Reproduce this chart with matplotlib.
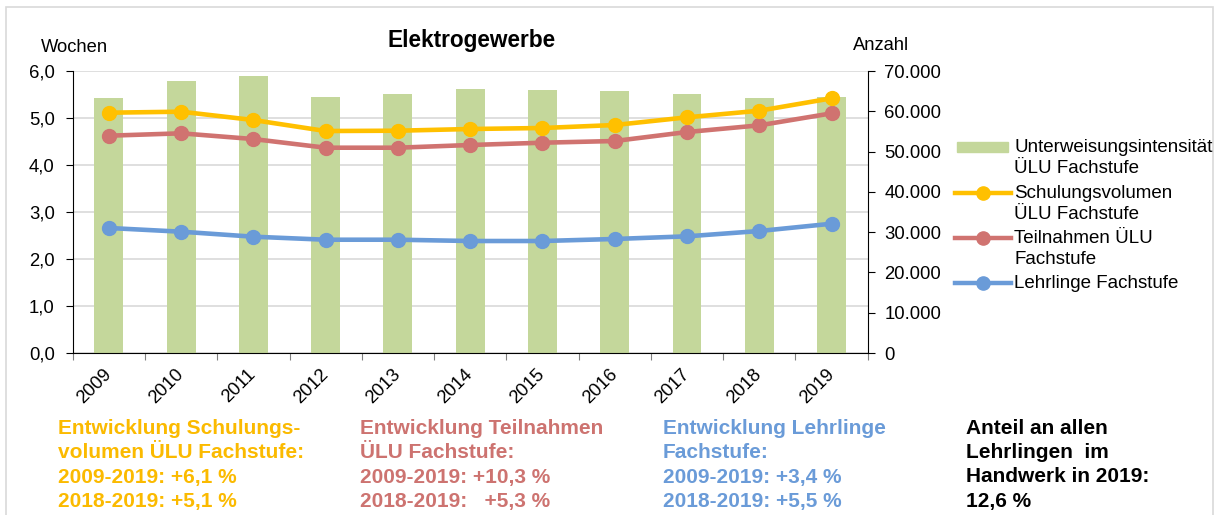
import numpy as np
import matplotlib
matplotlib.use('Agg')
import matplotlib.pyplot as plt
from matplotlib.lines import Line2D
from matplotlib.patches import Rectangle
from matplotlib.ticker import FuncFormatter, MultipleLocator

# ---- data ----
years = ['2009', '2010', '2011', '2012', '2013', '2014', '2015', '2016', '2017', '2018', '2019']
intensitaet = [5.42, 5.79, 5.89, 5.45, 5.51, 5.62, 5.60, 5.57, 5.51, 5.42, 5.44]
schulungsvolumen = [59650, 59900, 57830, 55100, 55180, 55600, 55850, 56590, 58500, 60140, 63220]
teilnahmen = [53940, 54530, 53110, 50960, 50960, 51630, 52200, 52620, 54850, 56510, 59490]
lehrlinge = [31030, 30110, 28870, 28120, 28120, 27800, 27800, 28300, 28960, 30280, 32090]

series_labels = ['Unterweisungsintensität\nÜLU Fachstufe',
                 'Schulungsvolumen\nÜLU Fachstufe',
                 'Teilnahmen ÜLU\nFachstufe',
                 'Lehrlinge Fachstufe']

title = 'Elektrogewerbe'
left_label = 'Wochen'
right_label = 'Anzahl'

notes = [
    (['Entwicklung Schulungs-', 'volumen ÜLU Fachstufe:', '2009-2019: +6,1 %', '2018-2019: +5,1 %'], '#FBBA00'),
    (['Entwicklung Teilnahmen', 'ÜLU Fachstufe:', '2009-2019: +10,3 %', '2018-2019:   +5,3 %'], '#CD7370'),
    (['Entwicklung Lehrlinge', 'Fachstufe:', '2009-2019: +3,4 %', '2018-2019: +5,5 %'], '#6A9BD8'),
    (['Anteil an allen', 'Lehrlingen  im', 'Handwerk in 2019:', '12,6 %'], '#000000'),
]

C_BAR = '#C4D79B'
C_Y = '#FFC000'
C_R = '#D07370'
C_B = '#6A9BD8'

plt.rcParams['font.family'] = ['Liberation Sans', 'DejaVu Sans']

W, H = 1217, 515
fig = plt.figure(figsize=(W / 100, H / 100), dpi=100)

FS_TICK = 13.3


def fx(px):
    return px / W


def fy(py):
    return 1 - py / H


# border
fig.patches.append(Rectangle((fx(6), -0.1), fx(1213) - fx(6), fy(7) + 0.1, fill=False,
                             edgecolor='#D9D9D9', lw=1.2, transform=fig.transFigure))

ax = fig.add_axes([fx(72.7), fy(353), fx(867.7) - fx(72.7), fy(71) - fy(353)])
x = np.arange(len(years))
ax.bar(x, intensitaet, width=0.4, color=C_BAR, zorder=2)
ax.set_xlim(-0.5, len(years) - 0.5)
ax.set_ylim(0, 6)
ax.yaxis.set_major_locator(MultipleLocator(1))
ax.yaxis.set_major_formatter(FuncFormatter(lambda v, p: f'{v:.1f}'.replace('.', ',')))
ax.grid(axis='y', color='#D9D9D9', lw=1.2)
ax.set_axisbelow(True)
ax.set_xticks(np.arange(-0.5, len(years), 1))
ax.set_xticklabels([])
ax.set_xticks(x, years, minor=True)
ax.tick_params(axis='x', which='major', direction='out', length=5, color='#808080')
ax.tick_params(axis='x', which='minor', length=0, pad=13.5, labelsize=FS_TICK)
for t in ax.get_xticklabels(minor=True):
    t.set_rotation(45)
    t.set_ha('right')
    t.set_va('center')
    t.set_rotation_mode('anchor')
ax.tick_params(axis='y', direction='out', length=5, labelsize=FS_TICK, pad=8)
for s in ['top', 'right']:
    ax.spines[s].set_visible(False)
ax.spines['left'].set_color('black')
ax.spines['bottom'].set_color('black')

ax2 = ax.twinx()
ax2.set_ylim(0, 70000)
ax2.yaxis.set_major_locator(MultipleLocator(10000))
ax2.yaxis.set_major_formatter(FuncFormatter(lambda v, p: f'{int(v):,}'.replace(',', '.')))
ax2.tick_params(axis='y', direction='out', length=5, labelsize=FS_TICK, pad=7)
for s in ['top', 'left', 'bottom']:
    ax2.spines[s].set_visible(False)

kw = dict(lw=3.3, marker='o', ms=10, solid_capstyle='round')
ax2.plot(x, lehrlinge, color=C_B, **kw)
ax2.plot(x, teilnahmen, color=C_R, **kw)
ax2.plot(x, schulungsvolumen, color=C_Y, **kw)

# titles
fig.text(fx(472), fy(41), title, ha='center', va='center', fontsize=16.3, weight='bold')
fig.text(fx(74.5), fy(47), left_label, ha='center', va='center', fontsize=13.2)
fig.text(fx(881.5), fy(45), right_label, ha='center', va='center', fontsize=13.2)

# legend (manual)
leg_y = [147, 193, 238, 283]
line_h = 21.5
fig.patches.append(Rectangle((fx(957), fy(147 + 5)), fx(1008) - fx(957), fy(147 - 5) - fy(147 + 5),
                             color=C_BAR, transform=fig.transFigure))
for yy, col in zip(leg_y[1:], [C_Y, C_R, C_B]):
    fig.add_artist(Line2D([fx(955), fx(1011)], [fy(yy), fy(yy)], color=col, lw=3.2,
                          transform=fig.transFigure))
    fig.add_artist(Line2D([fx(983)], [fy(yy)], color=col, marker='o', ms=9.5,
                          transform=fig.transFigure))
for yy, lab in zip(leg_y, series_labels):
    for i, ln in enumerate(lab.split('\n')):
        fig.text(fx(1014), fy(yy + i * line_h), ln, ha='left', va='center', fontsize=13.5)

# notes
note_x = [58, 360, 663, 966]
note_y = [429, 453, 477, 501]
for nx, (lines, col) in zip(note_x, notes):
    for ny, ln in zip(note_y, lines):
        fig.text(fx(nx), fy(ny), ln, ha='left', va='center', fontsize=15, weight='bold', color=col)

fig.savefig('out.png', dpi=100)
